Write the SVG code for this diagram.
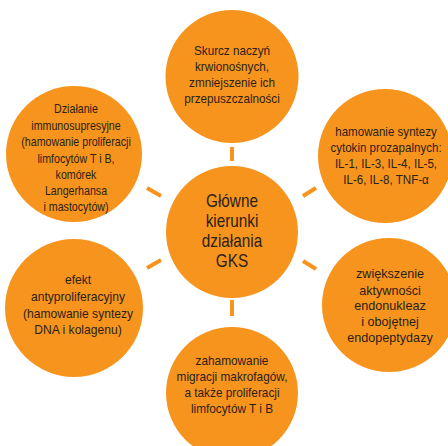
<svg xmlns="http://www.w3.org/2000/svg" width="448" height="446" viewBox="0 0 448 446">
<style>
.c{fill:#F7941D}
.t{font-family:"Liberation Sans",Arial,sans-serif;font-size:13px;fill:#2b2118;text-anchor:middle}
.big{font-size:18px}
.k{stroke:#F7941D;stroke-width:4;fill:none}
</style>
<rect width="448" height="446" fill="#ffffff"/>
<g id="connectors">
<line class="k" x1="232" y1="147" x2="232" y2="161"/>
<line class="k" x1="147" y1="188" x2="161" y2="196"/>
<line class="k" x1="303" y1="196" x2="316" y2="188"/>
<line class="k" x1="147" y1="268" x2="161" y2="260"/>
<line class="k" x1="303" y1="261" x2="316" y2="269"/>
<line class="k" x1="232" y1="300" x2="232" y2="316"/>
</g>
<g id="center">
<circle class="c" cx="232" cy="232" r="66"/>
<g transform="translate(232,0) scale(0.85,1)">
<text class="t big" x="0" y="207">Główne</text>
<text class="t big" x="0" y="227">kierunki</text>
<text class="t big" x="0" y="247">działania</text>
<text class="t big" x="0" y="267">GKS</text>
</g>
</g>
<g id="top">
<circle class="c" cx="232" cy="76.5" r="66.5"/>
<g transform="translate(232,0) scale(0.9,1)">
<text class="t" x="0" y="55">Skurcz naczyń</text>
<text class="t" x="0" y="71">krwionośnych,</text>
<text class="t" x="0" y="87">zmniejszenie ich</text>
<text class="t" x="0" y="103">przepuszczalności</text>
</g>
</g>
<g id="top-left">
<circle class="c" cx="74" cy="154" r="68"/>
<g transform="translate(76,0) scale(0.82,1)">
<text class="t" x="0" y="113">Działanie</text>
<text class="t" x="0" y="130">immunosupresyjne</text>
<text class="t" x="0" y="146">(hamowanie proliferacji</text>
<text class="t" x="0" y="163">limfocytów T i B,</text>
<text class="t" x="0" y="179">komórek</text>
<text class="t" x="0" y="195">Langerhansa</text>
<text class="t" x="0" y="211">i mastocytów)</text>
</g>
</g>
<g id="top-right">
<circle class="c" cx="385" cy="156" r="67"/>
<g transform="translate(386,0) scale(0.89,1)">
<text class="t" x="0" y="136">hamowanie syntezy</text>
<text class="t" x="0" y="152">cytokin prozapalnych:</text>
<text class="t" x="0" y="168">IL-1, IL-3, IL-4, IL-5,</text>
<text class="t" x="0" y="184">IL-6, IL-8, TNF-α</text>
</g>
</g>
<g id="bottom-left">
<circle class="c" cx="74" cy="308" r="69"/>
<g transform="translate(78,0) scale(0.93,1)">
<text class="t" x="0" y="284">efekt</text>
<text class="t" x="0" y="301">antyproliferacyjny</text>
<text class="t" x="0" y="318">(hamowanie syntezy</text>
<text class="t" x="0" y="334">DNA i kolagenu)</text>
</g>
</g>
<g id="bottom-right">
<circle class="c" cx="389" cy="305" r="67"/>
<g transform="translate(390,0) scale(0.97,1)">
<text class="t" x="0" y="278">zwiększenie</text>
<text class="t" x="0" y="295">aktywności</text>
<text class="t" x="0" y="310">endonukleaz</text>
<text class="t" x="0" y="326">i obojętnej</text>
<text class="t" x="0" y="342">endopeptydazy</text>
</g>
</g>
<g id="bottom">
<circle class="c" cx="232" cy="393" r="66"/>
<g transform="translate(232,0) scale(0.91,1)">
<text class="t" x="0" y="365">zahamowanie</text>
<text class="t" x="0" y="381">migracji makrofagów,</text>
<text class="t" x="0" y="397">a także proliferacji</text>
<text class="t" x="0" y="413">limfocytów T i B</text>
</g>
</g>
</svg>
